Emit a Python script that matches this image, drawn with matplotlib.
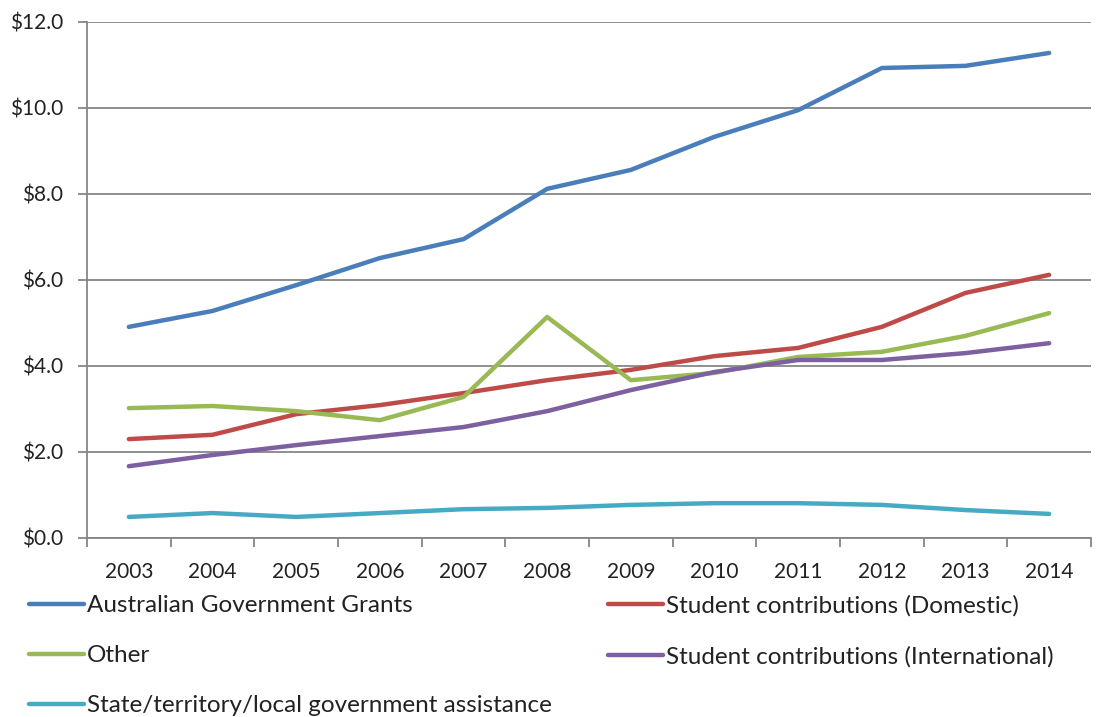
import matplotlib.pyplot as plt
from matplotlib.ticker import FixedLocator, FuncFormatter

# Values in $ billions
years = ['2003', '2004', '2005', '2006', '2007', '2008', '2009', '2010', '2011', '2012', '2013', '2014']
grants = [4.91, 5.28, 5.88, 6.51, 6.95, 8.12, 8.56, 9.33, 9.95, 10.93, 10.98, 11.28]
domestic = [2.30, 2.40, 2.88, 3.09, 3.37, 3.67, 3.91, 4.23, 4.42, 4.91, 5.70, 6.12]
other = [3.02, 3.07, 2.95, 2.74, 3.28, 5.14, 3.67, 3.84, 4.21, 4.33, 4.70, 5.23]
international = [1.67, 1.93, 2.16, 2.37, 2.58, 2.95, 3.44, 3.86, 4.14, 4.14, 4.30, 4.53]
state = [0.49, 0.58, 0.49, 0.58, 0.67, 0.70, 0.77, 0.81, 0.81, 0.77, 0.65, 0.56]

plt.rcParams['font.family'] = ['Lato', 'DejaVu Sans']
grid_col = '#868686'
text_col = '#222222'

fig = plt.figure(figsize=(11.02, 7.17), dpi=100)
ax = fig.add_axes([87 / 1102, 1 - 538 / 717, 1004 / 1102, 516 / 717])

x = range(len(years))
series = [
    ('Australian Government Grants', grants, '#4A7EBB'),
    ('Student contributions (Domestic)', domestic, '#BE4B48'),
    ('Other', other, '#98B954'),
    ('Student contributions (International)', international, '#7D60A0'),
    ('State/territory/local government assistance', state, '#46AAC5'),
]
lines = {}
for name, vals, col in series:
    ln, = ax.plot(x, vals, color=col, lw=3.2, solid_capstyle='round', solid_joinstyle='round', label=name)
    lines[name] = ln

ax.set_xlim(-0.5, len(years) - 0.5)
ax.set_ylim(0, 12)
ax.set_yticks([0, 2, 4, 6, 8, 10, 12])
ax.yaxis.set_major_formatter(FuncFormatter(lambda v, p: '${:.1f}'.format(v)))
ax.grid(axis='y', color=grid_col, lw=1.3)
ax.set_axisbelow(True)

ax.set_xticks(list(x))
ax.set_xticklabels(years)
ax.xaxis.set_minor_locator(FixedLocator([i - 0.5 for i in range(len(years) + 1)]))
ax.tick_params(axis='x', which='major', length=0, pad=17, labelsize=15, labelcolor=text_col)
ax.tick_params(axis='x', which='minor', length=6.5, width=1.3, color=grid_col)
ax.tick_params(axis='y', length=6.5, width=1.3, color=grid_col, pad=10.5, labelsize=15, labelcolor=text_col)

for s in ['top', 'right']:
    ax.spines[s].set_visible(False)
for s in ['left', 'bottom']:
    ax.spines[s].set_color(grid_col)
    ax.spines[s].set_linewidth(1.3)

# legend in two columns below the chart
col1 = ['Australian Government Grants', 'Other', 'State/territory/local government assistance']
col2 = ['Student contributions (Domestic)', 'Student contributions (International)']
for names, x0 in [(col1, 29), (col2, 608)]:
    leg = fig.legend([lines[n] for n in names], names, loc='upper left',
                     bbox_to_anchor=(x0 / 1102, 1 - 595 / 717), frameon=False,
                     fontsize=17.5, handlelength=2.27, handletextpad=0.12,
                     labelspacing=1.2, borderpad=0, borderaxespad=0)
    for t in leg.get_texts():
        t.set_color(text_col)

fig.savefig('out.png', dpi=100)
